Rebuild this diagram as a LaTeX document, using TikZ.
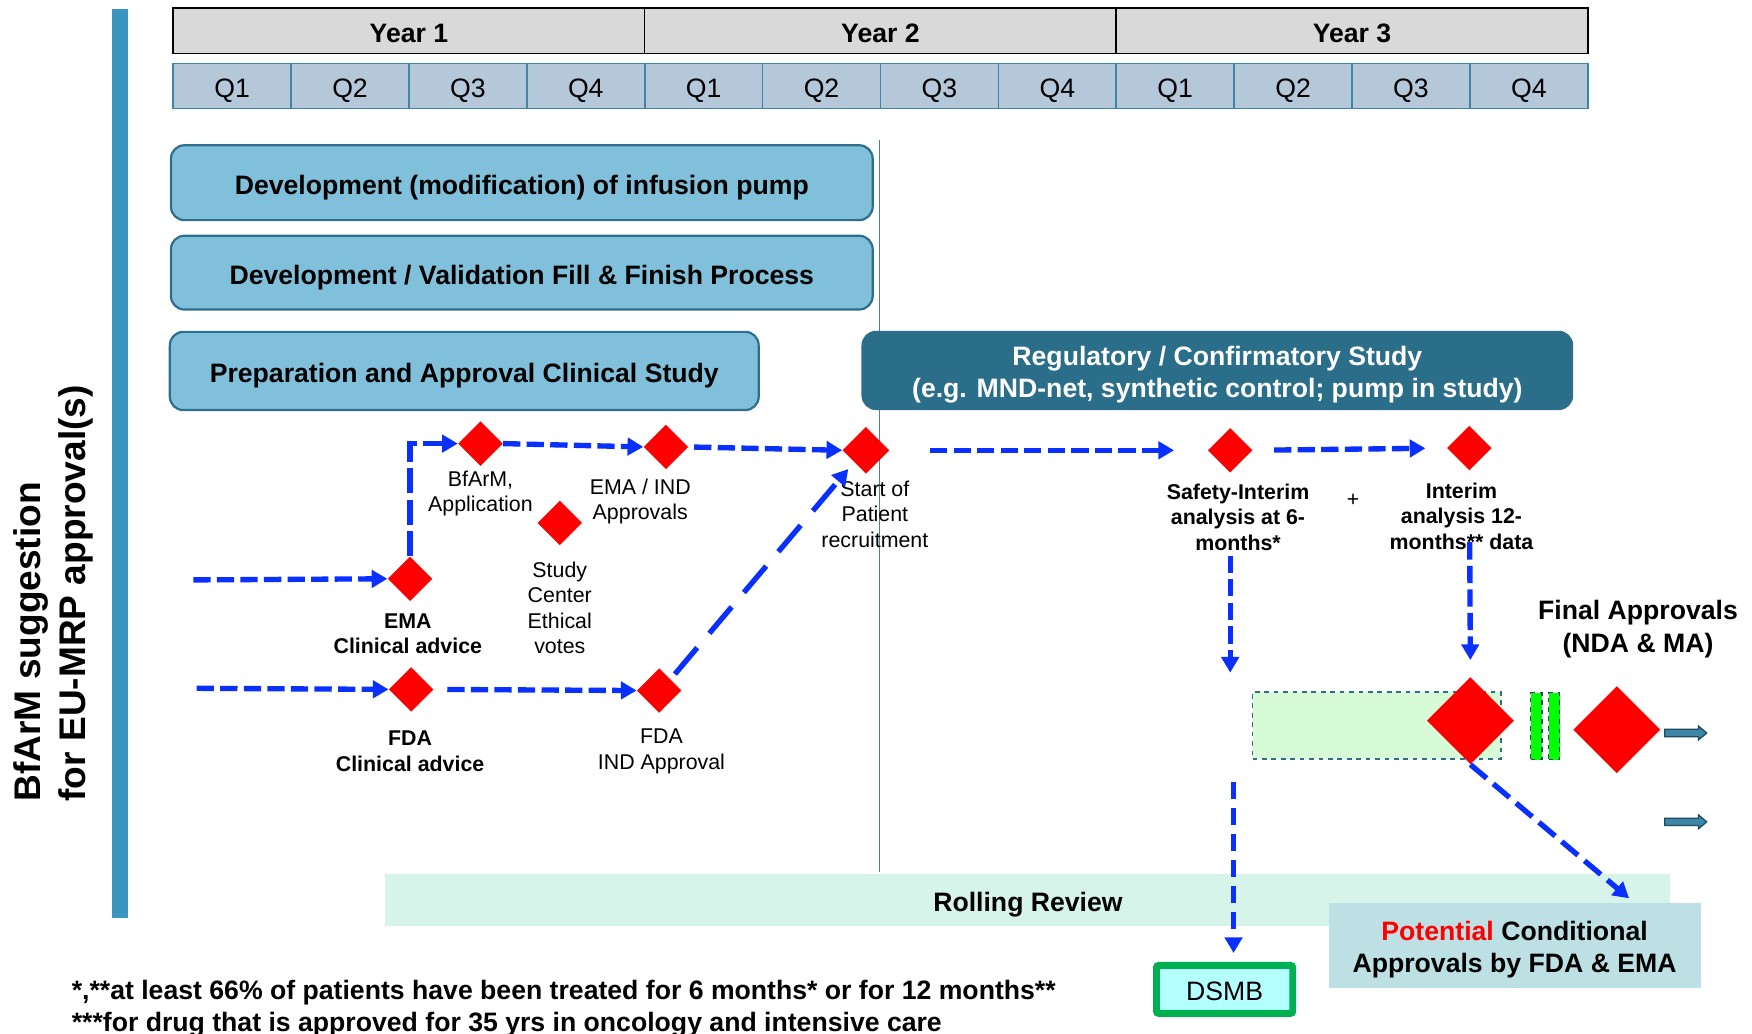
\documentclass[tikz,border=0pt]{standalone}
\usepackage{fontspec}
\setmainfont{Liberation Sans}
\usetikzlibrary{shapes.geometric,arrows.meta}

\definecolor{sidebar}{HTML}{3A96BE}
\definecolor{yeargray}{HTML}{D9D9D9}
\definecolor{qfill}{HTML}{B4C8DA}
\definecolor{qline}{HTML}{3E86A6}
\definecolor{phasefill}{HTML}{80C0DB}
\definecolor{phaseline}{HTML}{2C6E8C}
\definecolor{studyfill}{HTML}{2A6E8A}
\definecolor{flowblue}{HTML}{0A30FF}
\definecolor{pending}{HTML}{D6FBD6}
\definecolor{barlime}{HTML}{00FF00}
\definecolor{rollfill}{HTML}{D6F4E9}
\definecolor{potfill}{HTML}{BCE0E4}
\definecolor{dsmbfill}{HTML}{B4FFFF}
\definecolor{dsmbline}{HTML}{00B050}
\definecolor{exitdark}{HTML}{1D4B62}

\newcommand{\fntbase}{\fontsize{16.95}{20.6}\selectfont}
\newcommand{\fntlabel}{\fontsize{13.6}{16.2}\selectfont}
\newcommand{\fntside}{\fontsize{23.6}{28.5}\selectfont}

\begin{document}
\begin{tikzpicture}[x=0.25mm,y=-0.25mm,
  yearcell/.style={draw=black, line width=1pt, fill=yeargray, minimum width=105.5mm, minimum height=10.25mm, inner sep=0, text height=14.8pt, text depth=0pt, font=\fntbase\bfseries},
  qcell/.style={draw=qline, line width=1pt, fill=qfill, minimum width=26.375mm, minimum height=10mm, inner sep=0, text height=15pt, text depth=0pt, font=\fntbase},
  phase/.style={draw=phaseline, line width=1.4pt, fill=phasefill, rounded corners=3mm, inner sep=0, text height=14.5pt, text depth=0pt, font=\fntbase\bfseries},
  milestone/.style={diamond, fill=red, inner sep=0, minimum width=1cm, minimum height=1cm},
  bigstone/.style={milestone, minimum width=1.95cm, minimum height=1.95cm},
  lbl/.style={inner sep=0, align=center, font=\fntlabel},
  boldlbl/.style={inner sep=0, align=center, font=\fntlabel\bfseries},
  flow/.style={draw=flowblue, line width=3.4pt, dash pattern=on 11pt off 4pt, -{Triangle[length=10pt,width=11pt]}},
  limebar/.style={draw=exitdark, dashed, line width=0.8pt, fill=barlime, minimum width=2.5mm, minimum height=15mm, inner sep=0},
  exitarrow/.style={draw=exitdark, fill=qline, line width=0.8pt}]
\useasboundingbox (0,0) rectangle (1568,925);

% side bar and title
\fill[sidebar] (100,8) rectangle (115,822);
\node[rotate=90, align=left, inner sep=0, font=\fntside\bfseries] (side) at (48,531) {BfArM suggestion\\for EU-MRP approval(s)};

% years and quarters
\node[yearcell] (y1) at (366,27.5) {Year 1};
\node[yearcell] (y2) at (788,27.5) {Year 2};
\node[yearcell] (y3) at (1210,27.5) {Year 3};
\node[qcell] (q1a) at (207.75,77) {Q1};
\node[qcell] (q2a) at (313.25,77) {Q2};
\node[qcell] (q3a) at (418.75,77) {Q3};
\node[qcell] (q4a) at (524.25,77) {Q4};
\node[qcell] (q1b) at (629.75,77) {Q1};
\node[qcell] (q2b) at (735.25,77) {Q2};
\node[qcell] (q3b) at (840.75,77) {Q3};
\node[qcell] (q4b) at (946.25,77) {Q4};
\node[qcell] (q1c) at (1051.75,77) {Q1};
\node[qcell] (q2c) at (1157.25,77) {Q2};
\node[qcell] (q3c) at (1262.75,77) {Q3};
\node[qcell] (q4c) at (1368.25,77) {Q4};

\draw[qline, line width=0.6pt] (787,125) -- (787,780);

% work packages
\node[phase, minimum width=157mm, minimum height=16.75mm] (pump) at (467,163.5) {Development (modification) of infusion pump};
\node[phase, minimum width=157mm, minimum height=16.5mm] (fill) at (467,244) {Development / Validation Fill \& Finish Process};
\node[phase, minimum width=131.75mm, minimum height=17.5mm] (prep) at (415.5,332) {Preparation and Approval Clinical Study};
\node[phase, fill=studyfill, minimum width=158.75mm, minimum height=17.25mm] (study) at (1089.5,331.5) {};
\node[inner sep=0, align=center, text=white, font=\fntbase\bfseries] (studytxt) at (1089.5,335.5) {Regulatory / Confirmatory Study\\(e.g. MND-net, synthetic control; pump in study)};

% bottom bands
\node[fill=rollfill, minimum width=287.5mm, minimum height=11.75mm, inner sep=0, text height=14.5pt, text depth=0pt, font=\fntbase\bfseries] (rolling) at (920,805.5) {Rolling Review};
\node[fill=potfill, minimum width=83.25mm, minimum height=19mm, inner sep=0] (potential) at (1355.5,846) {};
\node[inner sep=0, align=center, font=\fntbase\bfseries] (pottxt) at (1355.5,850) {\textcolor{red}{Potential} Conditional\\Approvals by FDA \& EMA};
\node[draw=dsmbline, line width=4.4pt, fill=dsmbfill, rounded corners=1.5pt, minimum width=30.5mm, minimum height=10.75mm, inner sep=0, text height=14.5pt, text depth=0pt, font=\fntbase] (dsmb) at (1096,885.5) {DSMB};

% milestones
\node[milestone] (bfarm) at (430,397) {};
\node[milestone] (emaind) at (596,400) {};
\node[milestone, minimum width=1.05cm, minimum height=1.05cm] (start) at (775,403) {};
\node[milestone] (ethics) at (501,468) {};
\node[milestone] (emaca) at (367,518) {};
\node[milestone] (fdaca) at (368,617) {};
\node[milestone] (fdaind) at (590,618) {};
\node[milestone] (safety) at (1101,403) {};
\node[milestone] (interim) at (1315,401) {};
\node[draw=phaseline, dashed, line width=1.2pt, fill=pending, minimum width=55.5mm, minimum height=15mm, inner sep=0] (window) at (1232,649) {};
\node[bigstone] (condappr) at (1316,645) {};
\node[limebar] (bar1) at (1375,650) {};
\node[limebar] (bar2) at (1391,650) {};
\node[bigstone] (finalappr) at (1447,653) {};

% milestone labels
\node[lbl] (bfarmtxt) at (430,441.5) {BfArM,\\Application};
\node[lbl] (emaindtxt) at (573,449) {EMA / IND\\Approvals};
\node[lbl] (ethicstxt) at (501,544) {Study\\Center\\Ethical\\votes};
\node[lbl] (starttxt) at (783,460) {Start of\\Patient\\recruitment};
\node[boldlbl] (emacatxt) at (365,567) {EMA\\Clinical advice};
\node[boldlbl] (fdacatxt) at (367,672.5) {FDA\\Clinical advice};
\node[lbl] (fdaindtxt) at (592,672.5) {FDA\\IND Approval};
\node[boldlbl] (safetytxt) at (1108,463) {Safety-Interim\\analysis at 6-\\months*};
\node[lbl] (plus) at (1211,448) {+};
\node[boldlbl] (interimtxt) at (1308,462) {Interim\\analysis 12-\\months** data};
\node[inner sep=0, align=center, font=\fntbase\bfseries] (finaltxt) at (1466,563) {Final Approvals\\(NDA \& MA)};

% flow
\coordinate (emain) at (173,519);
\coordinate (fdain) at (176,616);
\coordinate (safetyend) at (1101,602);
\coordinate (dsmbtop) at (1104,700);
\coordinate (pottip) at (1458,804);
\draw[flow] (emain) -- (emaca.west);
\draw[flow] (fdain) -- (fdaca.west);
\draw[flow, dash pattern=on 16pt off 4pt] (emaca.north) |- (bfarm.west);
\draw[flow] (bfarm.east) -- (emaind.west);
\draw[flow, shorten <=1.25mm] (emaind.east) -- (start.west);
\draw[flow, shorten <=3mm] (fdaca.east) -- (fdaind.west);
\draw[flow, dash pattern=on 22pt off 12pt, shorten <=1.5mm, shorten >=2mm] (fdaind.north east) -- (start.south west);
\draw[flow, shorten <=9mm, shorten >=7.5mm] (start.east) -- (safety.west);
\draw[flow, shorten <=4.75mm, shorten >=4.75mm] (safety.east) -- (interim.west);
\draw[flow, shorten <=18.5mm] (safety.south) -- (safetyend);
\draw[flow, shorten <=16mm, shorten >=3.75mm] (interim.south) -- (condappr.north);
\draw[flow, dash pattern=on 11pt off 5.5pt, shorten >=2mm] (dsmbtop) -- (dsmbtop |- dsmb.north);
\draw[flow, dash pattern=on 13.5pt off 5.5pt] (condappr.south) -- (pottip);

% exit arrows
\draw[exitarrow, shift={(1490,656)}] (0,-3.3) -- (30,-3.3) -- (30,-6.3) -- (37.5,0) -- (30,6.3) -- (30,3.3) -- (0,3.3) -- cycle;
\draw[exitarrow, shift={(1490,735.5)}] (0,-3.3) -- (30,-3.3) -- (30,-6.3) -- (37.5,0) -- (30,6.3) -- (30,3.3) -- (0,3.3) -- cycle;

% footnotes
\node[anchor=west, inner sep=0, font=\fntbase\bfseries] (note1) at (64,888) {*,**at least 66\% of patients have been treated for 6 months* or for 12 months**};
\node[anchor=west, inner sep=0, font=\fntbase\bfseries] (note2) at (64,917) {***for drug that is approved for 35 yrs in oncology and intensive care};
\end{tikzpicture}
\end{document}
